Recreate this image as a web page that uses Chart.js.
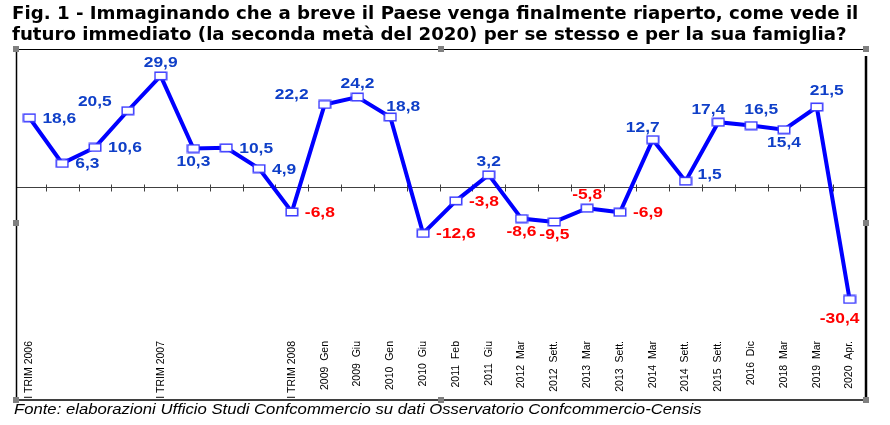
<!DOCTYPE html>
<html>
<head>
<meta charset="utf-8">
<script src="https://cdn.jsdelivr.net/npm/chart.js@4.4.1/dist/chart.umd.min.js"></script>
<style>
  html, body { margin: 0; padding: 0; background: #ffffff; }
  #wrap { position: relative; width: 890px; height: 425px; overflow: hidden; }
  #chart { position: absolute; left: 0; top: 0; }
  #title { position: absolute; left: 12px; top: 2px; font-family: "DejaVu Sans", Verdana, sans-serif; font-weight: bold; font-size: 18.2px; line-height: 21px; color: #000; white-space: nowrap; }
  #footer { position: absolute; left: 14px; top: 401px; font-family: "Liberation Sans", Arial, sans-serif; font-style: italic; font-size: 14.5px; color: #000; white-space: nowrap; transform: scaleX(1.15); transform-origin: left top; }
</style>
</head>
<body>
<div id="wrap">
  <canvas id="chart" width="890" height="425"></canvas>
  <div id="title">Fig. 1 - Immaginando che a breve il Paese venga finalmente riaperto, come vede il<br>futuro immediato (la seconda metà del 2020) per se stesso e per la sua famiglia?</div>
  <div id="footer">Fonte: elaborazioni Ufficio Studi Confcommercio su dati Osservatorio Confcommercio-Censis</div>
</div>
<script>
// ---- data ----
const categories = [
  "I TRIM 2006", "", "", "", "I TRIM 2007", "", "", "", "I TRIM 2008",
  "2009  Gen", "2009  Giu", "2010  Gen", "2010  Giu", "2011  Feb", "2011  Giu",
  "2012  Mar", "2012  Sett.", "2013  Mar", "2013  Sett.", "2014  Mar", "2014  Sett.",
  "2015  Sett.", "2016  Dic", "2018  Mar", "2019  Mar", "2020  Apr."
];
const values = [
  18.6, 6.3, 10.6, 20.5, 29.9, 10.3, 10.5, 4.9, -6.8,
  22.2, 24.2, 18.8, -12.6, -3.8, 3.2, -8.6, -9.5, -5.8,
  -6.9, 12.7, 1.5, 17.4, 16.5, 15.4, 21.5, -30.4
];
// where each value label sits relative to its point
const labelPlacement = [
  "right", "right", "right", "upleft", "top", "bottom", "right", "right", "right",
  "upleft", "top", "upright", "right", "right", "top", "bottom", "bottom", "top",
  "right", "topleft", "rightup", "topleft", "topright", "bottom", "topright", "bottomleft"
];

// ---- point marker: small white rectangle with blue border ----
const marker = document.createElement('canvas');
marker.width = 14; marker.height = 10;
(function(){
  const c = marker.getContext('2d');
  c.fillStyle = '#ffffff';
  c.fillRect(1, 1, 12, 8);
  c.strokeStyle = '#3b3bff';
  c.lineWidth = 1.5;
  c.strokeRect(1.25, 1.25, 11.5, 7.5);
})();

const frameAndZero = {
  id: 'frameAndZero',
  beforeDatasetsDraw(chart) {
    const ctx = chart.ctx;
    const x = chart.scales.x, y = chart.scales.y;
    const y0 = Math.round(y.getPixelForValue(0)) + 0.5;
    ctx.save();
    ctx.strokeStyle = '#404040';
    ctx.lineWidth = 1;
    ctx.beginPath();
    ctx.moveTo(16, y0); ctx.lineTo(866, y0);
    for (let i = 1; i < categories.length; i++) {
      const px = Math.round((x.getPixelForValue(i - 1) + x.getPixelForValue(i)) / 2) + 0.5;
      ctx.moveTo(px, y0 - 3); ctx.lineTo(px, y0 + 4);
    }
    ctx.stroke();
    ctx.restore();
  },
  afterDraw(chart) {
    const ctx = chart.ctx;
    ctx.save();
    ctx.strokeStyle = '#000000';
    ctx.lineWidth = 1;
    ctx.beginPath(); ctx.moveTo(16, 49.5); ctx.lineTo(866, 49.5); ctx.stroke();
    ctx.lineWidth = 1.5;
    ctx.beginPath(); ctx.moveTo(16.5, 49); ctx.lineTo(16.5, 400); ctx.lineTo(866, 400); ctx.stroke();
    ctx.lineWidth = 2.5;
    ctx.beginPath(); ctx.moveTo(866, 56); ctx.lineTo(866, 400); ctx.stroke();
    ctx.fillStyle = '#808080';
    const hs = [[16,49],[441,49],[866,49],[16,223],[866,223],[16,400],[441,400],[866,400]];
    hs.forEach(([hx,hy]) => ctx.fillRect(hx - 3, hy - 3, 6, 6));
    ctx.restore();
  }
};

const valueLabels = {
  id: 'valueLabels',
  afterDatasetsDraw(chart) {
    const ctx = chart.ctx;
    const meta = chart.getDatasetMeta(0);
    ctx.save();
    ctx.font = 'bold 14.5px "Liberation Sans", Arial, sans-serif';
    ctx.textBaseline = 'middle';
    ctx.textAlign = 'center';
    meta.data.forEach((pt, i) => {
      const v = values[i];
      const txt = v.toFixed(1).replace('.', ',');
      const w = ctx.measureText(txt).width * 1.2;
      let lx = pt.x, ly = pt.y;
      switch (labelPlacement[i]) {
        case 'right': lx = pt.x + 13 + w / 2; ly = pt.y + 1; break;
        case 'rightup': lx = pt.x + 12 + w / 2; ly = pt.y - 6; break;
        case 'top': ly = pt.y - 13; break;
        case 'topleft': lx = pt.x - 10; ly = pt.y - 12; break;
        case 'topright': lx = pt.x + 10; ly = pt.y - 16; break;
        case 'bottom': ly = pt.y + 13; break;
        case 'upleft': lx = pt.x - 33; ly = pt.y - 9; break;
        case 'upright': lx = pt.x + 13; ly = pt.y - 10; break;
        case 'bottomleft': lx = pt.x - 10; ly = pt.y + 20; break;
      }
      ctx.fillStyle = v < 0 ? '#ff0000' : '#0f3fc8';
      ctx.save();
      ctx.translate(lx, ly);
      ctx.scale(1.2, 1);
      ctx.fillText(txt, 0, 0);
      ctx.restore();
    });
    ctx.restore();
  }
};

new Chart(document.getElementById('chart'), {
  type: 'line',
  data: {
    labels: categories,
    datasets: [{
      data: values,
      borderColor: '#0000ff',
      borderWidth: 4,
      tension: 0,
      pointStyle: marker,
      pointRadius: 6,
      pointHoverRadius: 6,
      fill: false
    }]
  },
  options: {
    responsive: false,
    animation: false,
    devicePixelRatio: 1,
    layout: { padding: { left: 13, right: 24, top: 57, bottom: 25 } },
    plugins: { legend: { display: false }, tooltip: { enabled: false }, title: { display: false } },
    scales: {
      x: {
        offset: true,
        grid: { display: false, drawTicks: false },
        border: { display: false },
        afterFit(s) { s.height = 65; },
        ticks: {
          autoSkip: false,
          maxRotation: 90,
          minRotation: 90,
          padding: 6,
          color: '#000000',
          font: { family: '"Liberation Sans", Arial, sans-serif', size: 10.5 }
        }
      },
      y: {
        display: false,
        min: -40,
        max: 35
      }
    }
  },
  plugins: [frameAndZero, valueLabels]
});
</script>
</body>
</html>
